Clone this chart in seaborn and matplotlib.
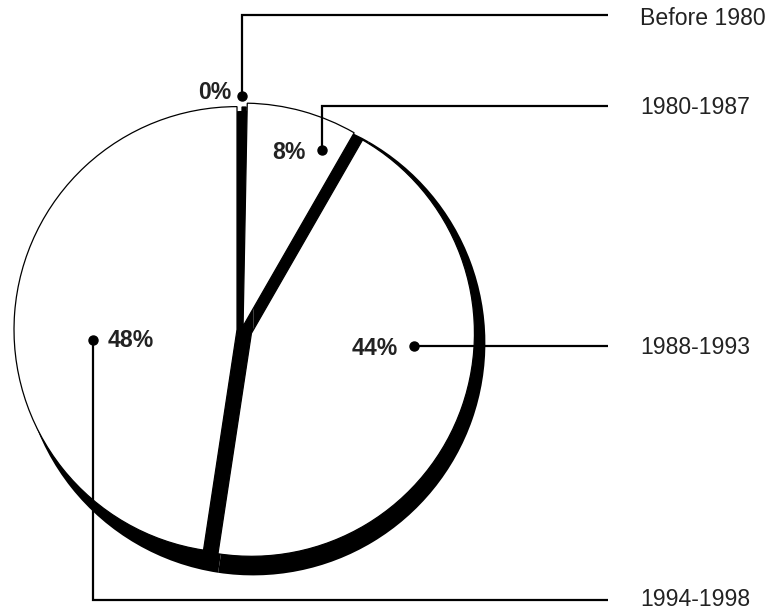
"""
Shares of items by period of origin
Pie with drop shadow and right-hand leader labels
"""

# LIBRARY

import matplotlib
matplotlib.use("Agg")
import matplotlib.pyplot as plt
import seaborn as sns


# DATA

periods = ['Before 1980', '1980-1987', '1988-1993', '1994-1998']
shares = [0.3, 8.0, 44.1, 47.6]

# LAYOUT (pixel positions on the 775x612 canvas)

PIE_CENTER = (242, 330)
PIE_RADIUS = 223
explode_px = [0, 4, 10, 5]
shadow_shift_px = (11, 13)
shadow_grow_px = 9.4

# leader routes: dot -> corner -> label column
leader_routes = [
    [(242, 96), (242, 15), (608, 15)],
    [(322, 150), (322, 106), (608, 106)],
    [(414, 346), (608, 346)],
    [(93, 340), (93, 600), (608, 600)],
]
label_x = 640
label_y = [17, 106, 346, 598]
pct_pos = [(231, 91, 'right'), (306, 151, 'right'), (398, 347, 'right'), (108, 339, 'left')]

FONT_PX = 23
TEXT_COLOR = '#222222'


# FUNCTIONS

def px(x, y):
    # canvas pixel -> data units (pie radius = 1)
    return (x - PIE_CENTER[0]) / PIE_RADIUS, (PIE_CENTER[1] - y) / PIE_RADIUS


def baseline(y_center):
    # put the middle of the digits on y_center
    return y_center + 0.716 * FONT_PX / 2


# CODE

sns.set_theme(style="white")
plt.rcParams['font.family'] = ['Liberation Sans', 'DejaVu Sans']

fig = plt.figure(figsize=(7.75, 6.12), dpi=100)
ax = fig.add_axes([0, 0, 1, 1])

# shadow: one black disc, a bit larger and shifted down-right
shadow_center = (shadow_shift_px[0] / PIE_RADIUS, -shadow_shift_px[1] / PIE_RADIUS)
ax.pie(shares, radius=1 + shadow_grow_px / PIE_RADIUS, center=shadow_center,
       startangle=90, counterclock=False, colors=['black'] * len(shares),
       wedgeprops=dict(linewidth=0))

# white exploded slices on top
ax.pie(shares, explode=[e / PIE_RADIUS for e in explode_px],
       startangle=90, counterclock=False,
       colors=['black', 'white', 'white', 'white'],
       wedgeprops=dict(edgecolor='black', linewidth=0.9))

# leader lines, dots and labels
fp = FONT_PX * 72 / 100
for period, share, route, ly, (tx, ty, ha) in zip(periods, shares, leader_routes, label_y, pct_pos):
    pts = [px(x, y) for x, y in route]
    ax.plot([p[0] for p in pts], [p[1] for p in pts], color='black', lw=1.6,
            solid_joinstyle='miter', solid_capstyle='butt')
    ax.plot(*pts[0], 'o', ms=6.5, color='black')
    ax.text(*px(label_x, baseline(ly)), period, fontsize=fp, color=TEXT_COLOR,
            ha='left', va='baseline')
    ax.text(*px(tx, baseline(ty)), f"{round(share):.0f}%", fontsize=fp,
            fontweight='bold', color=TEXT_COLOR, ha=ha, va='baseline')

ax.set_aspect('auto')
x0, y0 = px(0, 0)
x1, y1 = px(775, 612)
ax.set_xlim(x0, x1)
ax.set_ylim(y1, y0)
ax.axis('off')

fig.savefig('out.png', dpi=100)
